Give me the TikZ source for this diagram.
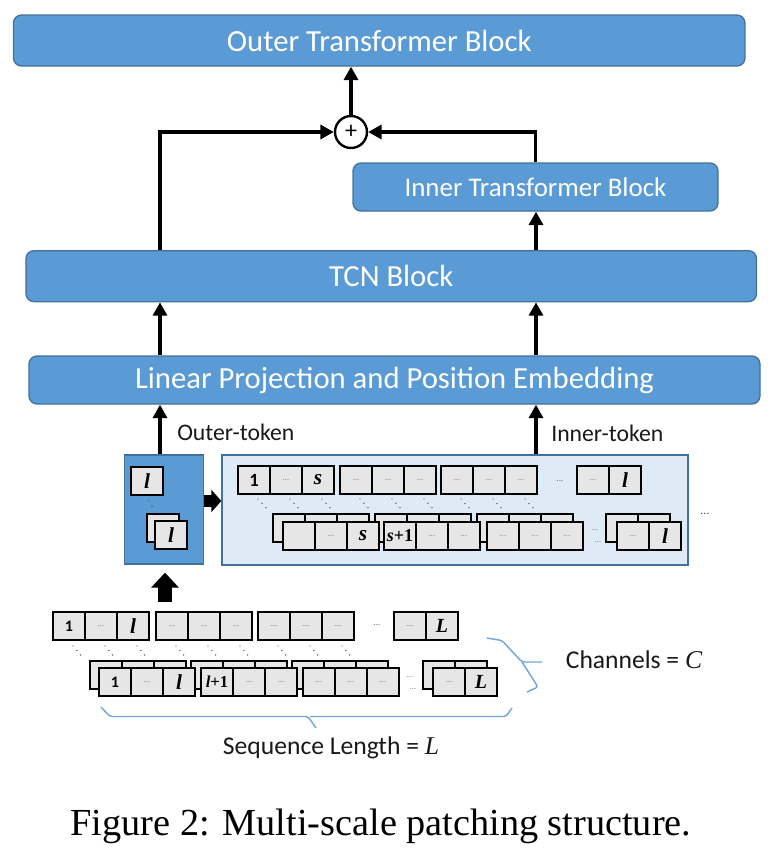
\documentclass[tikz,border=0pt]{standalone}
\usepackage{fontspec}
\setmainfont{Carlito}
\newfontfamily\serifit{Liberation Serif}
\usetikzlibrary{arrows.meta,calc}
\definecolor{mblue}{HTML}{5B9BD5}
\definecolor{mborder}{HTML}{41719C}
\definecolor{lightfill}{HTML}{DEEBF7}
\definecolor{cellfill}{HTML}{E7E6E6}
\definecolor{bracec}{HTML}{6FA8DC}
\newcounter{cellno}
\newcommand\mycell[3]{\draw[cellst] (#1,#2) rectangle +(32,28);
  \stepcounter{cellno}\node[celltxt] (cell\arabic{cellno}) at (#1+16,#2+14) {#3};}
\newcommand\grpthree[5]{\mycell{#1}{#2}{#3}\mycell{#1+32}{#2}{#4}\mycell{#1+64}{#2}{#5}}
\newcommand\grptwo[4]{\mycell{#1}{#2}{#3}\mycell{#1+32}{#2}{#4}}
\newcommand\backthree[2]{\foreach \i in {0,1,2} {\draw[cellst] (#1+32*\i,#2) rectangle +(32,28);}}
\newcommand\backtwo[2]{\foreach \i in {0,1} {\draw[cellst] (#1+32*\i,#2) rectangle +(32,28);}}
\newcommand\seqone{\fontsize{12}{12}\selectfont\bfseries 1}
\newcommand\inone{\fontsize{14}{14}\selectfont\bfseries 1}
\newcommand\myl{\serifit\fontsize{16}{16}\selectfont\bfseries\itshape l}
\newcommand\myL{\serifit\fontsize{15}{15}\selectfont\bfseries\itshape L}
\newcommand\mys{\serifit\fontsize{16}{16}\selectfont\bfseries\itshape s}
\newcommand\mysp{\serifit\fontsize{13.5}{13.5}\selectfont\bfseries{\itshape s}+1}
\newcommand\mylp{\serifit\fontsize{12.5}{12.5}\selectfont\bfseries{\itshape l}+1}
\newcommand\myd{\fontsize{6}{6}\selectfont\color{black!55}...}
\newcommand\mygapd{\fontsize{7}{7}\selectfont\color{black!55}...}
\begin{document}
\begin{tikzpicture}[x=0.75pt,y=-0.75pt,
  blockst/.style={draw=mborder, line width=1pt, fill=mblue, rounded corners=6pt, text=white, inner sep=0pt, font=\fontsize{23}{23}\selectfont},
  arr/.style={line width=2.4pt, -{Triangle[length=10pt,width=10.5pt]}},
  barrow/.style={line width=10.5pt, -{Triangle[length=11.25pt,width=20.25pt]}},
  rarrow/.style={line width=9pt, -{Triangle[length=7.5pt,width=16.5pt]}},
  cellst/.style={draw=black, fill=cellfill, line width=1.4pt},
  celltxt/.style={inner sep=0pt},
  dotl/.style={line width=1.1pt, line cap=round, dash pattern=on 0pt off 4.4pt, black!70},
  lbl/.style={inner sep=0pt, text=black!90, font=\fontsize{17.8}{17.8}\selectfont},
  bracest/.style={draw=bracec, line width=1.1pt, rounded corners=2pt},
  gapdots/.style={inner sep=0pt}
]
\useasboundingbox (0,0) rectangle (781,861);
% blocks
\node[blockst, minimum width=548.6pt, minimum height=38.25pt] (outer) at (379.25,40.5) {Outer Transformer Block};
\node[blockst, minimum width=273.75pt, minimum height=36pt, font=\fontsize{20.2}{20.2}\selectfont] (inner) at (535.5,187) {Inner Transformer Block};
\node[blockst, minimum width=547.9pt, minimum height=38.25pt] (tcn) at (391.25,276.2) {TCN Block};
\node[blockst, minimum width=548.25pt, minimum height=36pt] (lppe) at (394.5,380) {Linear Projection and Position Embedding};
\node[circle, draw=black, line width=1.8pt, fill=white, minimum size=24pt, inner sep=0pt, font=\fontsize{18}{18}\selectfont] (plus) at (351,132) {+};
\node[draw=mborder, line width=1pt, fill=mblue, minimum width=59.25pt, minimum height=81.75pt, inner sep=0pt] (darkbox) at (163.75,509.5) {};
\node[draw=mborder, line width=1pt, fill=lightfill, minimum width=349.5pt, minimum height=82.5pt, inner sep=0pt] (lightbox) at (455,510) {};
\coordinate (lx) at (160,0);
\coordinate (rx) at (536,0);
% arrows
\draw[arr] (plus.north) -- (plus.north |- outer.south);
\draw[arr] (tcn.north -| lx) |- (plus.west);
\draw[arr] (inner.north) |- (plus.east);
\draw[arr] (tcn.north -| rx) -- (inner.south -| rx);
\draw[arr] (lppe.north -| lx) -- (tcn.south -| lx);
\draw[arr] (lppe.north -| rx) -- (tcn.south -| rx);
\draw[arr] (darkbox.north -| lx) -- (lppe.south -| lx);
\draw[arr] (lightbox.north -| rx) -- (lppe.south -| rx);
\node[lbl, anchor=west] (otok) at (177,432) {Outer-token};
\node[lbl, anchor=west] (itok) at (551,433) {Inner-token};
% block arrows
\draw[rarrow] ([yshift=6.4pt]darkbox.east) -- ([yshift=6.4pt]darkbox.east -| lightbox.west);
\coordinate (upbot) at (165,602);
\draw[barrow, shorten >=6pt] (upbot) -- (upbot |- darkbox.south);
% dark box content
\draw[dotl] (149,501) -- (155,511);
\mycell{131}{467}{\myl}
\node[gapdots] (dd1) at (171,482) {\fontsize{6}{6}\selectfont\color{black!45}...};
\draw[cellst] (147,514) rectangle +(32,28);
\mycell{155}{521}{\myl}
\node[gapdots] (dd2) at (194,537) {\fontsize{6}{6}\selectfont\color{black!45}...};
% inner token content
\foreach \x in {238,270,302,340,372,404,441,473,505} {\draw[dotl] (\x+20,499) -- (\x+31,511);}
\grpthree{238}{466}{\inone}{\myd}{\mys}
\grpthree{340}{466}{\myd}{\myd}{\myd}
\grpthree{441}{466}{\myd}{\myd}{\myd}
\node[gapdots] (ig1) at (560,481) {\mygapd};
\grptwo{577}{466}{\myd}{\myl}
\backthree{273}{514}
\backthree{375}{514}
\backthree{477}{514}
\backtwo{606}{514}
\grpthree{283}{522}{}{\myd}{\mys}
\grpthree{384}{522}{\mysp}{\myd}{\myd}
\grpthree{487}{522}{\myd}{\myd}{\myd}
\grptwo{617}{522}{\myd}{\myl}
\node[gapdots] (ig2) at (595,530) {\myd};
\node[gapdots] (ig3) at (598,542) {\myd};
\node[gapdots] (ig4) at (705,514) {\fontsize{9}{9}\selectfont\color{black!70}...};
% sequence
\foreach \x in {53,85,117,156,188,220,258,290,322} {\draw[dotl] (\x+20,646) -- (\x+31,659);}
\grpthree{53}{612}{\seqone}{\myd}{\myl}
\grpthree{156}{612}{\myd}{\myd}{\myd}
\grpthree{258}{612}{\myd}{\myd}{\myd}
\node[gapdots] (sg1) at (377,625) {\mygapd};
\grptwo{394}{612}{\myd}{\myL}
\backthree{90}{661}
\backthree{191}{661}
\backthree{292}{661}
\backtwo{423}{661}
\grpthree{99}{668}{\seqone}{\myd}{\myl}
\grpthree{201}{668}{\mylp}{\myd}{\myd}
\grpthree{303}{668}{\myd}{\myd}{\myd}
\grptwo{433}{668}{\myd}{\myL}
\node[gapdots] (sg2) at (410,677) {\myd};
\node[gapdots] (sg3) at (413,689) {\myd};
% braces
\draw[bracest] (487,638) -- (502,640.5) -- (522,662) -- (542,662);
\draw[bracest] (522,662) -- (538,687) -- (527,692);
\draw[bracest] (101,707) -- (110,716.5) -- (308,716.5) -- (316,728);
\draw[bracest] (310,716.5) -- (506,716.5) -- (512,708);
\node[lbl, font=\fontsize{19.2}{19.2}\selectfont] (chan) at (634,660) {Channels = {\serifit\itshape C}};
\node[lbl, font=\fontsize{19.2}{19.2}\selectfont] (seql) at (331,748) {Sequence Length = {\serifit\itshape L}};
% caption
\node[inner sep=0pt, font=\serifit\fontsize{28.7}{28.7}\selectfont] (cap) at (381,826) {Figure 2: Multi-scale patching structure.};
\end{tikzpicture}
\end{document}
